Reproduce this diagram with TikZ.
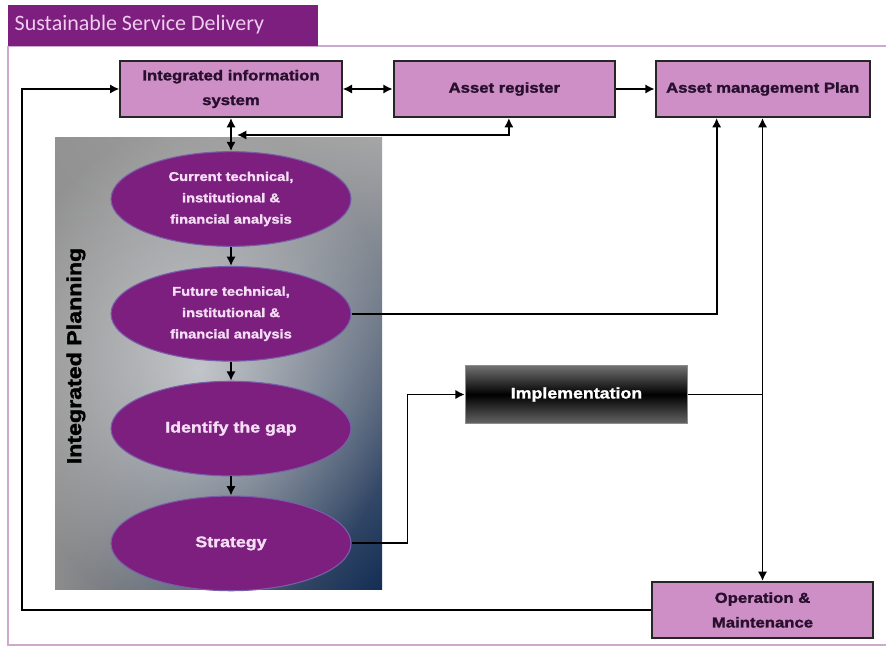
\documentclass[tikz,border=0pt]{standalone}
\usepackage{fontspec}
\setmainfont{Liberation Sans}
\newfontfamily\titlefont{Carlito}
\newfontfamily\heavyfont{Liberation Sans}[FakeStretch=1.16,FakeBold=1.6]
\usetikzlibrary{arrows.meta,positioning,shapes.geometric,shadings,fadings}

\definecolor{orchid}{RGB}{205,143,198}
\definecolor{plum}{RGB}{124,31,126}
\definecolor{titlepink}{RGB}{240,205,238}
\definecolor{framepink}{RGB}{205,170,205}
\definecolor{ovaltext}{RGB}{245,222,245}
\definecolor{ovalrim}{RGB}{120,95,170}
\definecolor{boxtext}{RGB}{40,15,45}
\definecolor{navy}{RGB}{18,45,85}

\tikzfading[name=glow, inner color=transparent!0, outer color=transparent!100]

\begin{document}
\begin{tikzpicture}[
  x=0.75pt, y=-0.75pt,
  >={Latex[length=7pt,width=7pt]},
  box/.style={draw=black!85, line width=1.5pt, fill=orchid, text=boxtext,
              minimum width=166pt, minimum height=42pt, align=center,
              font=\heavyfont\bfseries\fontsize{10.8}{18.5}\selectfont},
  oval/.style={ellipse, draw=ovalrim, line width=0.8pt, fill=plum, text=ovaltext,
               minimum width=180pt, minimum height=71pt, inner sep=0pt, align=center,
               font=\heavyfont\bfseries\fontsize{9.5}{16}\selectfont},
  bigoval/.style={oval, font=\heavyfont\bfseries\fontsize{11.5}{16}\selectfont},
  impl/.style={draw=black!45, line width=0.6pt, top color=black!55, bottom color=black!60,
               middle color=black, text=white, minimum width=167pt, minimum height=44pt,
               font=\heavyfont\bfseries\fontsize{11.5}{14}\selectfont},
  wire/.style={draw, line width=1.4pt},
  every edge/.style={draw, line width=1.4pt, ->},
  node distance=14.3pt and 37.5pt
]
\useasboundingbox (0,0) rectangle (886,648);
\fill[white] (0,0) rectangle (886,648);

% frame and title
\draw[framepink, line width=0.8pt] (8,46) -- (886,46) (8,46) -- (8,645) -- (886,645);
\node[fill=plum, anchor=north west, minimum width=232.5pt, minimum height=30.75pt,
      inner sep=0pt] (titlebar) at (8,5) {};
\node[anchor=west, text=titlepink, font=\titlefont\fontsize{16.5}{18}\selectfont]
  (title) at (10,25) {Sustainable Service Delivery};

% planning panel
\shade[upper left=gray!85, upper right=gray!70, lower left=gray!90, lower right=navy]
  (55,138) rectangle (382,590);
\begin{scope}
  \clip (55,138) rectangle (382,590);
  \fill[white, fill opacity=0.55, path fading=glow]
    (200,370) ellipse (200 and 250);
\end{scope}
\node[rotate=90, font=\heavyfont\bfseries\fontsize{15}{18}\selectfont]
  (planning) at (76,356) {Integrated Planning};

% top row
\node[box] (iis) at (231,89) {Integrated information\\system};
\node[box, right=of iis] (ar) {Asset register};
\node[box, right=29pt of ar, minimum width=160.5pt] (amp) {Asset management Plan};

% planning steps
\node[oval] (e1) at (231,199) {Current technical,\\institutional \&\\financial analysis};
\node[oval, below=of e1] (e2) {Future technical,\\institutional \&\\financial analysis};
\node[bigoval, below=of e2] (e3) {Identify the gap};
\node[bigoval, below=of e3] (e4) {Strategy};

\node[impl] (imp) at (576.5,394.5) {Implementation};
\node[box] (om) at (762.5,610) {Operation \&\\Maintenance};

\coordinate (rail) at (22,610);
\coordinate (tap) at (237,135);

\path (iis) edge[<->] (ar)
      (ar) edge (amp)
      (iis) edge[<->] (e1);
\foreach \a/\b in {e1/e2,e2/e3,e3/e4}
  \path (\a) edge (\b);

\draw[wire, <->] (tap) -| ([xshift=3.4pt]ar.south);
\draw[wire, ->] (om.west) -- (rail) |- (iis.west);
\draw[wire, ->] (e2.east) -| ([xshift=-34.5pt]amp.south);
\draw[wire, <->] (om.north) -- (om.north |- amp.south);
\draw[wire, ->] (e4.east) -- ++(56,0) |- (imp.west);
\draw[wire] (imp.east) -- (imp.east -| om.north);
\end{tikzpicture}
\end{document}
